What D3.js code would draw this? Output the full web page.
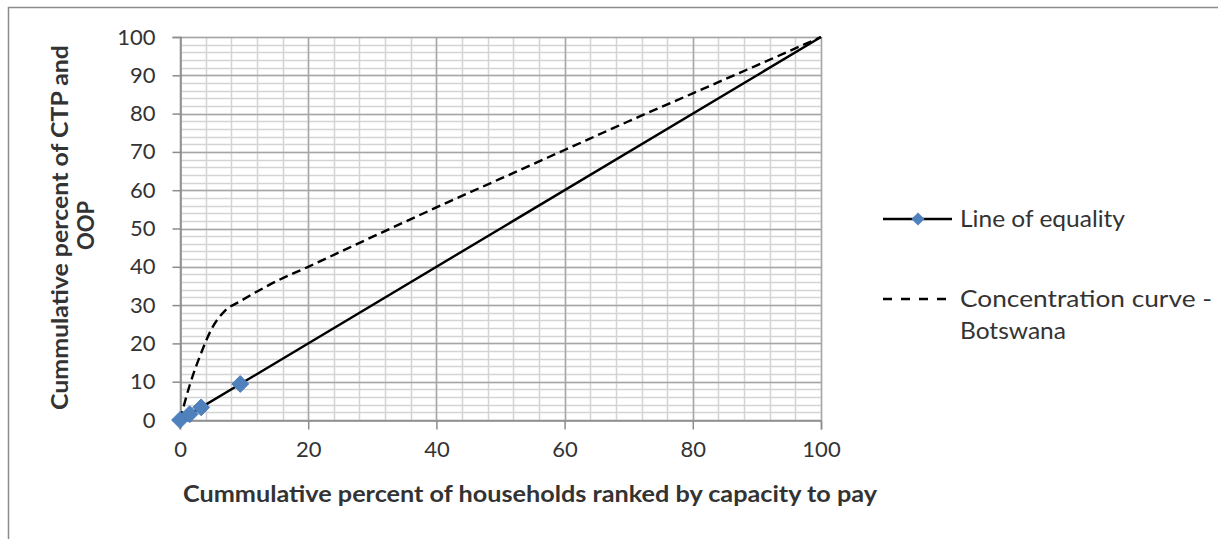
<!DOCTYPE html>
<html>
<head>
<meta charset="utf-8">
<script src="https://cdn.jsdelivr.net/npm/d3@7"></script>
<style>
  html, body { margin: 0; padding: 0; background: #fff; }
  svg { display: block; }
  text { font-family: Lato, "Open Sans", sans-serif; fill: #333; }
</style>
</head>
<body>
<svg id="chart" width="1218" height="539"></svg>
<script>
// Cumulative share of households (x) and of payments (y), in percent
const equalityX = [0, 1.5, 3.3, 9.4, 100];
const equalityY = [0, 1.5, 3.3, 9.4, 100];
const markerIdx = [0, 1, 2, 3];

const concentrationX = [0, 1.5, 3.3, 5, 7, 9.4, 15, 20, 30, 40, 50, 60, 70, 80, 90, 100];
const concentrationY = [0, 9, 17.5, 24, 28.5, 31, 36.2, 40, 47.8, 55.5, 63, 70.5, 78, 85.3, 92.6, 100];

const xTicks = [0, 20, 40, 60, 80, 100];
const yTicks = [0, 10, 20, 30, 40, 50, 60, 70, 80, 90, 100];
const xMinor = d3.range(0, 100.01, 4);
const yMinor = d3.range(0, 100.01, 2);

const seriesNames = ["Line of equality", "Concentration curve -", "Botswana"];
const xTitle = "Cummulative percent of households ranked by capacity to pay";
const yTitle = ["Cummulative percent of CTP and", "OOP"];

const svg = d3.select("#chart");
const margin = { left: 180, right: 397, top: 37, bottom: 119 };
const W = 1218, H = 539;

// outer chart frame
svg.append("path")
  .attr("d", `M8.5,${H} V7.5 H${W}`)
  .attr("fill", "none").attr("stroke", "#8c8c8c").attr("stroke-width", 1.5);

const x = d3.scaleLinear().domain([0, 100]).range([margin.left, W - margin.right]);
const y = d3.scaleLinear().domain([0, 100]).range([H - margin.bottom, margin.top]);

const grid = svg.append("g");
// minor gridlines
grid.selectAll(".vmin").data(xMinor).join("line")
  .attr("x1", d => Math.round(x(d)) + 0.5).attr("x2", d => Math.round(x(d)) + 0.5)
  .attr("y1", y(0)).attr("y2", y(100))
  .attr("stroke", "#d4d4d4").attr("stroke-width", 1.5);
grid.selectAll(".hmin").data(yMinor).join("line")
  .attr("x1", x(0)).attr("x2", x(100))
  .attr("y1", d => Math.round(y(d)) + 0.5).attr("y2", d => Math.round(y(d)) + 0.5)
  .attr("stroke", "#d4d4d4").attr("stroke-width", 1.5);
// major gridlines
grid.selectAll(".vmaj").data(xTicks).join("line")
  .attr("x1", d => Math.round(x(d)) + 0.5).attr("x2", d => Math.round(x(d)) + 0.5)
  .attr("y1", y(0)).attr("y2", y(100))
  .attr("stroke", "#a6a6a6").attr("stroke-width", 1.5);
grid.selectAll(".hmaj").data(yTicks).join("line")
  .attr("x1", x(0)).attr("x2", x(100))
  .attr("y1", d => Math.round(y(d)) + 0.5).attr("y2", d => Math.round(y(d)) + 0.5)
  .attr("stroke", "#a6a6a6").attr("stroke-width", 1.5);

// axes
const xAxis = svg.append("g")
  .attr("transform", `translate(0,${Math.round(y(0)) + 0.5})`)
  .call(d3.axisBottom(x).tickValues(xTicks).tickSize(9).tickPadding(8));
const yAxis = svg.append("g")
  .attr("transform", `translate(${Math.round(x(0)) + 0.5},0)`)
  .call(d3.axisLeft(y).tickValues(yTicks).tickSize(8).tickPadding(17));
[xAxis, yAxis].forEach(a => {
  a.select(".domain").attr("stroke", "#8c8c8c").attr("stroke-width", 1.5);
  a.selectAll(".tick line").attr("stroke", "#8c8c8c").attr("stroke-width", 1.5);
  a.selectAll(".tick text").style("font-size", "22px").attr("fill", "#333");
});
xAxis.selectAll(".tick text").attr("dy", "0.9em");

// concentration curve
const conc = concentrationX.map((d, i) => [d, concentrationY[i]]);
svg.append("path")
  .datum(conc)
  .attr("fill", "none").attr("stroke", "#000").attr("stroke-width", 2.4)
  .attr("stroke-dasharray", "9,5")
  .attr("d", d3.line().x(d => x(d[0])).y(d => y(d[1])).curve(d3.curveMonotoneX));

// line of equality
const eq = equalityX.map((d, i) => [d, equalityY[i]]);
svg.append("path")
  .datum(eq)
  .attr("fill", "none").attr("stroke", "#000").attr("stroke-width", 2.4)
  .attr("d", d3.line().x(d => x(d[0])).y(d => y(d[1])));

const diamond = d3.symbol().type(d3.symbolDiamond2).size(180);
svg.selectAll(".mk").data(markerIdx.map(i => eq[i])).join("path")
  .attr("transform", d => `translate(${x(d[0])},${y(d[1])})`)
  .attr("d", diamond)
  .attr("fill", "#4f81bd").attr("stroke", "#4a7ebb").attr("stroke-width", 1);

// legend
const lg = svg.append("g");
lg.append("line").attr("x1", 883).attr("x2", 952).attr("y1", 219).attr("y2", 219)
  .attr("stroke", "#000").attr("stroke-width", 2.4);
lg.append("path").attr("transform", "translate(918,219)").attr("d", d3.symbol().type(d3.symbolDiamond2).size(110))
  .attr("fill", "#4f81bd");
lg.append("text").attr("x", 960).attr("y", 219).attr("dy", "0.35em")
  .style("font-size", "24px").attr("textLength", 165).attr("lengthAdjust", "spacingAndGlyphs")
  .text(seriesNames[0]);
lg.append("line").attr("x1", 883).attr("x2", 946).attr("y1", 299).attr("y2", 299)
  .attr("stroke", "#000").attr("stroke-width", 2.4).attr("stroke-dasharray", "9,9");
lg.append("text").attr("x", 960).attr("y", 299).attr("dy", "0.35em")
  .style("font-size", "24px").attr("textLength", 252).attr("lengthAdjust", "spacingAndGlyphs")
  .text(seriesNames[1]);
lg.append("text").attr("x", 960).attr("y", 331).attr("dy", "0.35em")
  .style("font-size", "24px").attr("textLength", 106).attr("lengthAdjust", "spacingAndGlyphs")
  .text(seriesNames[2]);

// axis titles
svg.append("text")
  .attr("x", 183).attr("y", 502)
  .style("font-size", "23px").style("font-weight", "bold").attr("fill", "#111")
  .attr("textLength", 694).attr("lengthAdjust", "spacingAndGlyphs")
  .text(xTitle);
const yt = svg.append("text")
  .attr("transform", "translate(68,410) rotate(-90)")
  .style("font-size", "22px").style("font-weight", "bold").attr("fill", "#111");
yt.append("tspan").attr("x", 0).attr("y", 0)
  .attr("textLength", 365).attr("lengthAdjust", "spacingAndGlyphs").text(yTitle[0]);
yt.append("tspan").attr("x", 160).attr("y", 26).text(yTitle[1]);
</script>
</body>
</html>
